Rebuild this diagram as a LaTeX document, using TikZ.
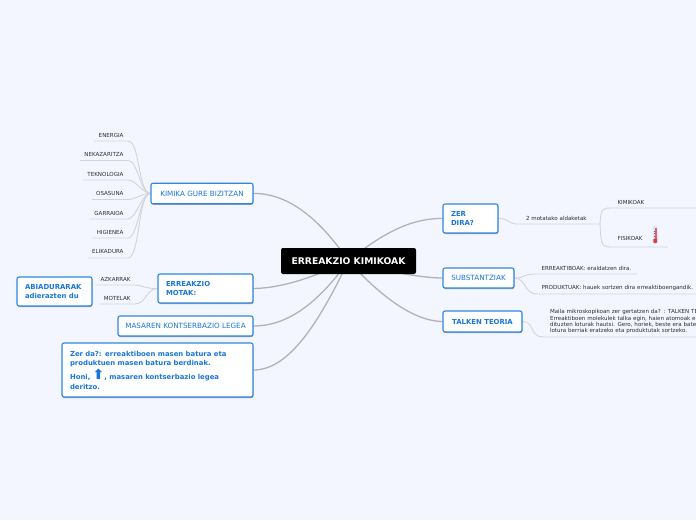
\documentclass[tikz,border=0pt]{standalone}
\usepackage{fontspec}
\setmainfont{DejaVu Sans}
\usepackage{xcolor}
\usetikzlibrary{
  arrows.meta,
  positioning,
  backgrounds,
  shadows
}
\definecolor{pagebg}{HTML}{F3F6FF}
\definecolor{boxblue}{HTML}{2E86E4}
\definecolor{textblue}{HTML}{1A76DC}
\definecolor{linegrey}{HTML}{B2B2B6}
\definecolor{leafgrey}{HTML}{D2D4DB}
\definecolor{leaftext}{HTML}{2C2E33}
\definecolor{tubered}{HTML}{E5383B}
\tikzset{
  topicbox/.style={draw=boxblue, line width=1.1pt, fill=white, rounded corners=2pt, inner sep=0pt,
    drop shadow={shadow xshift=0.4pt, shadow yshift=-1pt, opacity=0.35, fill=black}},
  topictext/.style={text=textblue, font=\fontsize{7.2}{9}\selectfont},
  boldtext/.style={text=textblue, font=\fontsize{6.9}{9.5}\selectfont\bfseries},
  leaf/.style={inner xsep=4.5pt, inner ysep=0pt, minimum height=12pt, outer sep=0pt, text=leaftext, font=\fontsize{5.55}{6.3}\selectfont},
  branch/.style={draw=linegrey, line width=1.3pt},
  twig/.style={draw=leafgrey, line width=0.9pt}
}
\begin{document}
\begin{tikzpicture}[x=1pt,y=-1pt]
  \useasboundingbox (0,0) rectangle (696,520);
  \clip (0,0) rectangle (696,520);

  % main topic
  \node[fill=black, rounded corners=2pt, text=white, font=\fontsize{9.2}{10}\selectfont\bfseries, minimum width=135pt, minimum height=26pt, inner sep=0pt] (main) at (348.5,261) {ERREAKZIO KIMIKOAK};

  % left side
  \node[topicbox, topictext, minimum width=102pt, minimum height=20.5pt] (kimika) at (202,193.5) {KIMIKA GURE BIZITZAN};
  \node[topicbox, boldtext, minimum width=95pt, minimum height=29pt, align=left, text width=79pt] (motak) at (205.5,288.5) {ERREAKZIO\\MOTAK:};
  \node[topicbox, boldtext, minimum width=75pt, minimum height=29pt, align=left, text width=59pt] (abiadura) at (54.5,291.5) {ABIADURARAK\\adierazten du};
  \node[topicbox, topictext, minimum width=135pt, minimum height=20pt] (masaren) at (185.5,326) {MASAREN KONTSERBAZIO LEGEA};
  \node[topicbox, boldtext, minimum width=191pt, minimum height=54pt, align=left, text width=175pt] (zerda) at (157.5,370) {Zer da?: erreaktiboen masen batura eta\\produktuen masen batura berdinak.\\[1pt]Honi, {\fontsize{14}{9}\selectfont ⬆}, masaren kontserbazio legea\\deritzo.};

  % right side
  \node[topicbox, boldtext, minimum width=55pt, minimum height=29pt, align=left, text width=39pt] (zerdira) at (470.5,218.5) {ZER\\DIRA?};
  \node[topicbox, topictext, minimum width=71pt, minimum height=20pt] (substantziak) at (478.5,278) {SUBSTANTZIAK};
  \node[topicbox, boldtext, minimum width=79pt, minimum height=21pt] (talken) at (482.5,321.5) {TALKEN TEORIA};

  % leaves of kimika
  \node[leaf, anchor=south east] (energia) at (128,141) {ENERGIA};
  \node[leaf, anchor=south east] (nekazaritza) at (128,160.5) {NEKAZARITZA};
  \node[leaf, anchor=south east] (teknologia) at (128,180) {TEKNOLOGIA};
  \node[leaf, anchor=south east] (osasuna) at (128,199.5) {OSASUNA};
  \node[leaf, anchor=south east] (garraioa) at (128,219) {GARRAIOA};
  \node[leaf, anchor=south east] (higienea) at (128,238) {HIGIENEA};
  \node[leaf, anchor=south east] (elikadura) at (128,258) {ELIKADURA};

  % leaves of motak
  \node[leaf, anchor=south east] (azkarrak) at (135,285) {AZKARRAK};
  \node[leaf, anchor=south east] (motelak) at (135,304) {MOTELAK};

  % leaves of the right side
  \node[leaf, anchor=south west, minimum width=83pt, inner xsep=9pt, text width=65pt, align=left] (aldaketak) at (517,224) {2 motatako aldaketak};
  \node[leaf, anchor=south west, minimum width=100pt, text width=91pt, align=left] (kimikoak) at (613,208) {KIMIKOAK};
  \node[leaf, anchor=south west, minimum width=55pt, text width=46pt, minimum height=18pt, align=left] (fisikoak) at (613,247) {FISIKOAK};
  \node[leaf, anchor=south west, minimum width=100pt, text width=91pt, align=left] (erreaktiboak) at (537,274) {ERREAKTIBOAK: eraldatzen dira.};
  \node[leaf, anchor=south west, text width=165pt, align=left] (produktuak) at (537,294) {PRODUKTUAK: hauek sortzen dira erreaktiboengandik.};
  \node[leaf, anchor=south west, text width=190pt, align=left, inner xsep=7pt, inner ysep=3pt] (teoria) at (543,337) {Maila mikroskopikoan zer gertatzen da? : TALKEN TEORIA\\Erreaktiboen molekulek talka egin, haien atomoak elkartzen\\dituzten loturak hautsi. Gero, horiek, beste era batera\\lotura berriak eratzeko eta produktutak sortzeko.};

  % thermometer
  \fill[boxblue!20, rounded corners=1pt] (653,226) rectangle (657.5,243.5);
  \fill[tubered!80] (654.5,228) rectangle (656.5,239);
  \fill[tubered, rounded corners=1pt] (653.3,238.5) rectangle (657.2,243);
  \draw[black!60, line width=0.4pt] (654.2,231) -- (655,231) (654.2,233.5) -- (655,233.5) (654.2,236) -- (655,236);

  \begin{scope}[on background layer]
    \fill[pagebg] (0,0) rectangle (696,520);

    % wires
    \draw[branch] (main.center) .. controls (322,222) and (290,193) .. (kimika.east);
    \draw[branch] (main.center) .. controls (318,275) and (285,288) .. (motak.east);
    \draw[branch] (main.center) .. controls (320,300) and (290,326) .. (masaren.east);
    \draw[branch] (main.center) .. controls (320,320) and (290,370) .. (zerda.east);
    \draw[branch] (main.center) .. controls (380,235) and (410,218) .. (zerdira.west);
    \draw[branch] (main.center) .. controls (380,270) and (420,278) .. (substantziak.west);
    \draw[branch] (main.center) .. controls (375,290) and (410,321) .. (talken.west);

    % twigs
    \draw[twig] (kimika.west) .. controls (138,193) and (140,141) .. (energia.south east) -- (energia.south west);
    \draw[twig] (kimika.west) .. controls (140,193) and (138,160.5) .. (nekazaritza.south east) -- (nekazaritza.south west);
    \draw[twig] (kimika.west) .. controls (142,193) and (136,180) .. (teknologia.south east) -- (teknologia.south west);
    \draw[twig] (kimika.west) .. controls (142,193) and (136,199.5) .. (osasuna.south east) -- (osasuna.south west);
    \draw[twig] (kimika.west) .. controls (142,193) and (136,219) .. (garraioa.south east) -- (garraioa.south west);
    \draw[twig] (kimika.west) .. controls (140,193) and (138,238) .. (higienea.south east) -- (higienea.south west);
    \draw[twig] (kimika.west) .. controls (138,193) and (140,258) .. (elikadura.south east) -- (elikadura.south west);
    \draw[twig] (motak.west) .. controls (146,289) and (142,285) .. (azkarrak.south east) -- (azkarrak.south west);
    \draw[twig] (motak.west) .. controls (146,289) and (146,304) .. (motelak.south east) -- (motelak.south west);
    \draw[twig] (zerdira.east) .. controls (508,218) and (508,224) .. (aldaketak.south west) -- (aldaketak.south east);
    \draw[twig] (aldaketak.south east) .. controls (601,208) and (602,208) .. (kimikoak.south west) -- (kimikoak.south east);
    \draw[twig] (aldaketak.south east) .. controls (601,247) and (602,247) .. (fisikoak.south west) -- (fisikoak.south east);
    \draw[twig] (substantziak.east) .. controls (526,278) and (522,274) .. (erreaktiboak.south west) -- (erreaktiboak.south east);
    \draw[twig] (substantziak.east) .. controls (526,278) and (524,294) .. (produktuak.south west) -- (produktuak.south east);
    \draw[twig] (talken.east) .. controls (534,321) and (530,337) .. (teoria.south west) -- (teoria.south east);
  \end{scope}
\end{tikzpicture}
\end{document}
